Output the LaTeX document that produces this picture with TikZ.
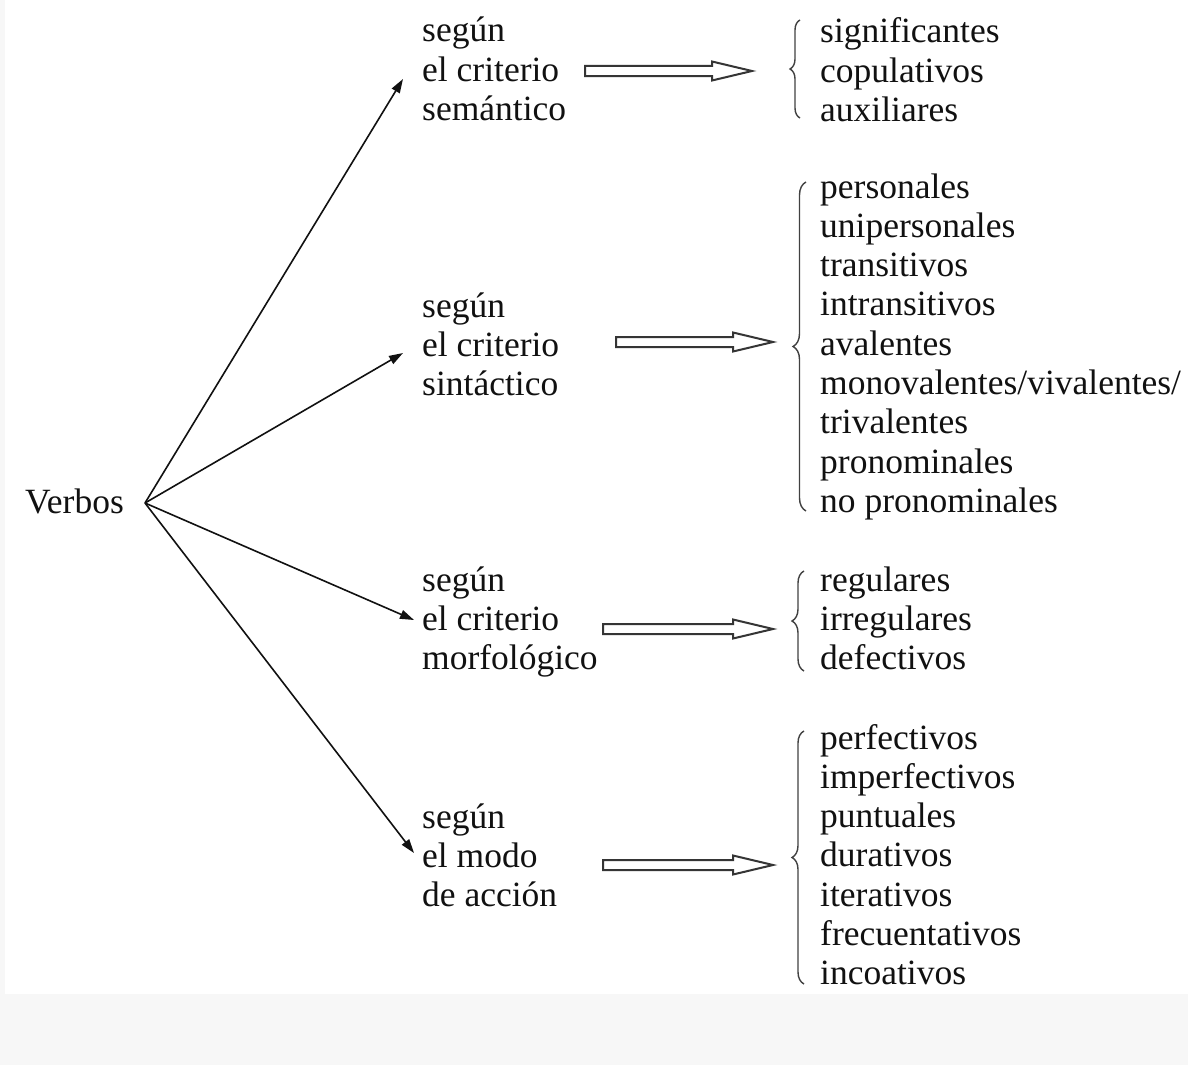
\documentclass[tikz,border=0pt]{standalone}
\usepackage{fontspec}
\setmainfont{Liberation Serif}
\usetikzlibrary{arrows.meta,decorations.pathreplacing,calc}
\definecolor{bandgray}{HTML}{F7F7F7}
\definecolor{ink}{HTML}{111111}
\tikzset{
  lbl/.style={anchor=base west, inner sep=0pt, font=\fontsize{35.5}{39.3}\selectfont, text=ink},
  ray/.style={draw=ink, line width=1.6pt, -{Triangle[length=14pt,width=9pt]}},
  hollow/.style={draw=ink!85, line width=2pt, fill=white, line join=miter},
  brc/.style={draw=ink!80, line width=1.4pt, decorate, decoration={brace, amplitude=#1}},
}
\newcommand\hollowarrow[2]{%
  \draw[hollow] let \p1=(#1), \p2=(#2) in
    (\x1,\y1+5pt) -- (\x2-40pt,\y1+5pt) -- (\x2-40pt,\y1+9.5pt) -- (\x2,\y1)
    -- (\x2-40pt,\y1-9.5pt) -- (\x2-40pt,\y1-5pt) -- (\x1,\y1-5pt) -- cycle;}
\begin{document}
\begin{tikzpicture}[x=1pt,y=-1pt]
\useasboundingbox (0,0) rectangle (1188,1065);
\fill[bandgray] (0,0) rectangle (1188,1065);
\fill[white] (5,0) rectangle (1188,994);

% root
\node[lbl] (verbos) at (25,513) {Verbos};
\coordinate (vo) at (145,503);

% middle column
\foreach \g/\y/\a/\b/\c in {1/42/según/el criterio/semántico,
                             2/317/según/el criterio/sintáctico,
                             3/591/según/el criterio/morfológico,
                             4/828/según/el modo/de acción}{
  \node[lbl] (m\g-1) at (422,\y) {\a};
  \node[lbl] (m\g-2) at (422,\y+39.3) {\b};
  \node[lbl] (m\g-3) at (422,\y+78.6) {\c};
}

% right lists
\foreach \t [count=\i] in {significantes,copulativos,auxiliares}
  \node[lbl] (r1-\i) at (820,43+39.3*\i-39.3) {\t};
\foreach \t [count=\i] in {personales,unipersonales,transitivos,intransitivos,avalentes,monovalentes/vivalentes/,trivalentes,pronominales,no pronominales}
  \node[lbl] (r2-\i) at (820,198+39.3*\i-39.3) {\t};
\foreach \t [count=\i] in {regulares,irregulares,defectivos}
  \node[lbl] (r3-\i) at (820,591+39.3*\i-39.3) {\t};
\foreach \t [count=\i] in {perfectivos,imperfectivos,puntuales,durativos,iterativos,frecuentativos,incoativos}
  \node[lbl] (r4-\i) at (820,749+39.3*\i-39.3) {\t};

% rays from Verbos
\coordinate (t1) at (403,79);
\coordinate (t2) at (403,353);
\coordinate (t3) at (414,620);
\coordinate (t4) at (414,853);
\foreach \k in {1,...,4} \draw[ray] (vo) -- (t\k);

% hollow arrows
\coordinate (h1s) at (585,71);  \coordinate (h1e) at (752,71);
\coordinate (h2s) at (616,342); \coordinate (h2e) at (773,342);
\coordinate (h3s) at (603,629); \coordinate (h3e) at (773,629);
\coordinate (h4s) at (603,865); \coordinate (h4e) at (773,865);
\hollowarrow{h1s}{h1e}
\hollowarrow{h2s}{h2e}
\hollowarrow{h3s}{h3e}
\hollowarrow{h4s}{h4e}

% braces
\coordinate (b1t) at (800,20);  \coordinate (b1b) at (800,118);
\coordinate (b2t) at (806,182); \coordinate (b2b) at (806,511);
\coordinate (b3t) at (804,571); \coordinate (b3b) at (804,671);
\coordinate (b4t) at (804,731); \coordinate (b4b) at (804,984);
\draw[brc=10] (b1b) -- (b1t);
\draw[brc=13] (b2b) -- (b2t);
\draw[brc=12] (b3b) -- (b3t);
\draw[brc=12] (b4b) -- (b4t);
\end{tikzpicture}
\end{document}
